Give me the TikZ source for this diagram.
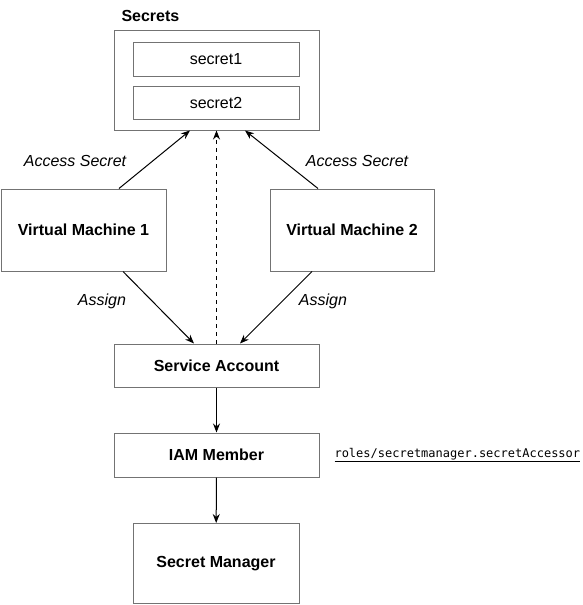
\documentclass[tikz,border=0pt]{standalone}
\usepackage{fontspec}
\setmainfont{Liberation Sans}
\setmonofont{DejaVu Sans Mono}
\usepackage{tikz}
\usetikzlibrary{arrows.meta}

\def\thickness{1pt}
\tikzset{box/.style={draw=black!55, line width=\thickness, inner sep=0pt, font=\fontsize{16}{18}\selectfont}}
\tikzset{bold box/.style={box, font=\fontsize{16}{18}\selectfont\bfseries}}
\tikzset{arrow/.style={-{Stealth[length=9pt,width=7pt]}, line width=\thickness}}
\tikzset{edge label/.style={font=\fontsize{16}{18}\selectfont\itshape}}

\begin{document}
\begin{tikzpicture}[x=1pt,y=-1pt]

\path[use as bounding box] (0,0) rectangle (583,605);

%% secrets
\node [anchor=west, font=\fontsize{16}{18}\selectfont\bfseries] (secrets_label) at (118,16) {Secrets};
\node [box, minimum width=205pt, minimum height=100pt] (secrets) at (216.5,80) {};
\node [box, minimum width=166pt, minimum height=34pt] (secret1) at (216,59) {secret1};
\node [box, minimum width=166pt, minimum height=33pt] (secret2) at (216,102.5) {secret2};

%% machines
\node [bold box, minimum width=165pt, minimum height=82pt] (vm1) at (83.5,230) {Virtual Machine 1};
\node [bold box, minimum width=164pt, minimum height=82pt] (vm2) at (352,230) {Virtual Machine 2};

%% accounts
\node [bold box, minimum width=205pt, minimum height=43pt] (sa) at (216.5,365.5) {Service Account};
\node [bold box, minimum width=205pt, minimum height=44pt] (iam) at (216.5,455) {IAM Member};
\node [bold box, minimum width=166pt, minimum height=80pt] (sm) at (216,563.5) {Secret Manager};
\node [anchor=west, font=\fontsize{12}{14}\selectfont\ttfamily] (role) at (331,455) {\underline{roles/secretmanager.secretAccessor}};

%% connectors
\draw[arrow] ([xshift=35.5pt]vm1.north) to ([xshift=-26.5pt]secrets.south);
\draw[arrow] ([xshift=-34pt]vm2.north) to ([xshift=28.5pt]secrets.south);
\draw[arrow, dash pattern=on 4pt off 4pt] (sa.north) to (secrets.south);
\draw[arrow] ([xshift=39.5pt]vm1.south) to ([xshift=-22.5pt]sa.north);
\draw[arrow] ([xshift=-40pt]vm2.south) to ([xshift=23.5pt]sa.north);
\draw[arrow] (sa) to (iam);
\draw[arrow] (iam) to (sm);

\node [edge label] (access_left) at (75,161) {Access Secret};
\node [edge label] (access_right) at (357,161) {Access Secret};
\node [edge label] (assign_left) at (102,301) {Assign};
\node [edge label] (assign_right) at (323,301) {Assign};

\end{tikzpicture}
\end{document}
